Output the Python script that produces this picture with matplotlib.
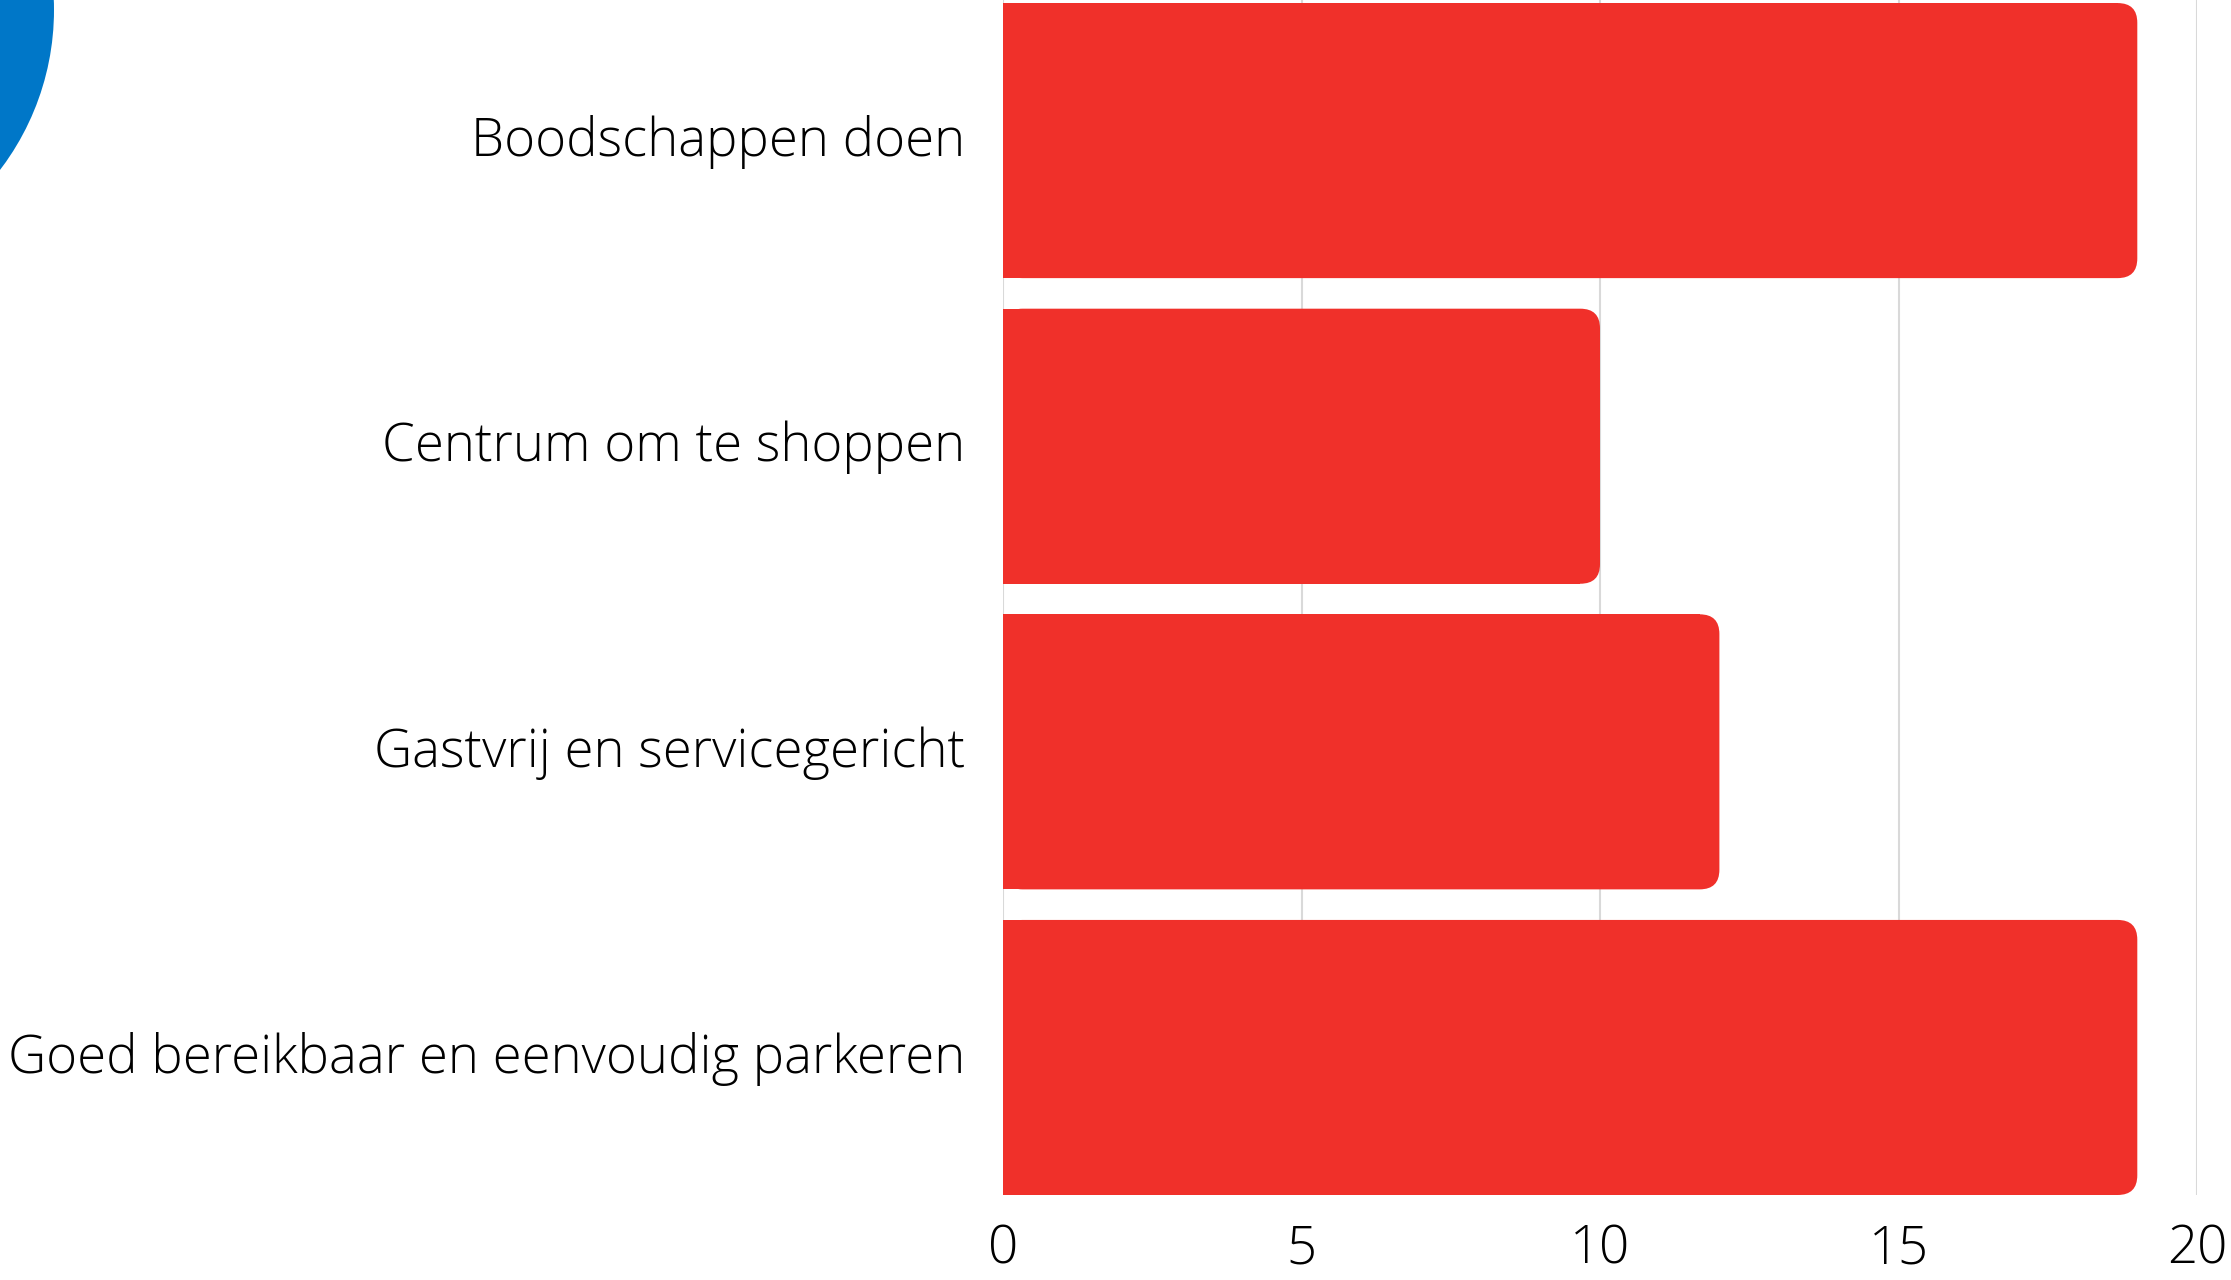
import matplotlib
matplotlib.use("Agg")
import matplotlib.pyplot as plt
import matplotlib.transforms as mtransforms
from matplotlib.patches import FancyBboxPatch, Ellipse

categories = ["Boodschappen doen", "Centrum om te shoppen",
              "Gastvrij en servicegericht", "Goed bereikbaar en eenvoudig parkeren"]
values = [19, 10, 12, 19]
ticks = [0, 5, 10, 15, 20]

red = "#f0302a"
blue = "#0077c8"

plt.rcParams["font.family"] = ["Open Sans", "DejaVu Sans"]

fig = plt.figure(figsize=(22.31, 12.80), dpi=100)
ax = fig.add_axes([1003 / 2231, 1 - 1195 / 1280, 1194 / 2231, 1195 / 1280])

h = 0.9
r = 0.33
asp = 0.195
for i, v in enumerate(values):
    ax.barh(i, v - r, height=h, color=red, zorder=2)
    box = FancyBboxPatch((0, i - h / 2), v, h,
                         boxstyle=f"round,pad=0,rounding_size={r}",
                         mutation_aspect=asp, facecolor=red, edgecolor="none", zorder=2)
    ax.add_patch(box)

ax.set_xlim(0, 20)
ax.set_ylim(3.45, -0.46)
ax.set_yticks(range(len(categories)))
ax.set_yticklabels(categories)
ax.set_xticks(ticks)
ax.set_xticklabels([str(t) for t in ticks])
ax.tick_params(axis="y", length=0, pad=27, labelsize=38)
ax.tick_params(axis="x", length=0, pad=20, labelsize=38)
up = mtransforms.ScaledTranslation(0, 5 / 100, fig.dpi_scale_trans)
for lab in ax.get_yticklabels():
    lab.set_transform(lab.get_transform() + up)
for lab in ax.get_xticklabels() + ax.get_yticklabels():
    lab.set_fontweight("light")

ax.grid(axis="x", color="#d9d9d9", linewidth=1.5, zorder=0)
ax.set_axisbelow(True)
for s in ax.spines.values():
    s.set_visible(False)

# blue circle peeking in top-left corner
fig.patches.append(Ellipse((-210 / 2231, 1 - 10 / 1280), 2 * 264 / 2231, 2 * 264 / 1280,
                           transform=fig.transFigure, facecolor=blue, edgecolor="none"))

fig.savefig("out.png", dpi=100)
